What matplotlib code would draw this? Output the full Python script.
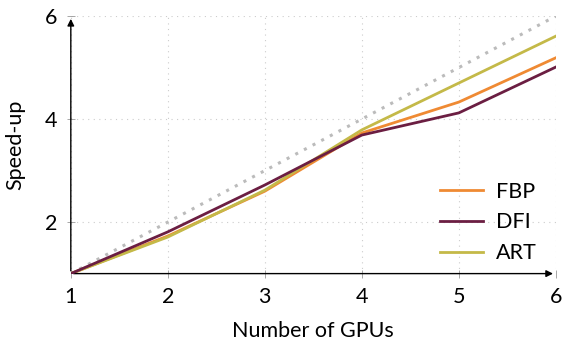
import matplotlib
matplotlib.use("Agg")
import matplotlib.pyplot as plt

gpus = [1, 2, 3, 4, 5, 6]
fbp = [1.0, 1.73, 2.60, 3.73, 4.33, 5.19]
dfi = [1.0, 1.81, 2.72, 3.69, 4.12, 5.01]
art = [1.0, 1.71, 2.62, 3.79, 4.70, 5.61]
ideal = [1, 2, 3, 4, 5, 6]

plt.rcParams["font.family"] = ["Lato", "DejaVu Sans"]

fig = plt.figure(figsize=(5.62, 3.42), dpi=100)
ax = fig.add_axes([0.126, 0.200, 0.863, 0.753])

ax.plot(gpus, ideal, color="#bbbbbb", linestyle=(0, (1, 2.2)), linewidth=2.2, zorder=2)
ax.plot(gpus, fbp, color="#ef8a33", linewidth=2, label="FBP", zorder=3)
ax.plot(gpus, dfi, color="#6b1e42", linewidth=2, label="DFI", zorder=4)
ax.plot(gpus, art, color="#c4b948", linewidth=2, label="ART", zorder=3)

ax.set_xlim(1, 6)
ax.set_ylim(1, 6)
ax.set_xticks([1, 2, 3, 4, 5, 6])
ax.set_yticks([2, 4, 6])
ax.grid(True, color="#cccccc", linestyle=(0, (1, 4)), linewidth=0.8)
for s in ax.spines.values():
    s.set_visible(False)
ax.tick_params(direction="inout", length=6, width=0.6, color="#999999",
               labelsize=15.5, pad=7)

# axis arrows
ax.annotate("", xy=(1.0, 0), xytext=(0, 0), xycoords="axes fraction",
            arrowprops=dict(arrowstyle="-|>", color="black", lw=1, mutation_scale=10),
            annotation_clip=False)
ax.annotate("", xy=(0, 1.0), xytext=(0, 0), xycoords="axes fraction",
            arrowprops=dict(arrowstyle="-|>", color="black", lw=1, mutation_scale=10),
            annotation_clip=False)

ax.set_xlabel("Number of GPUs", fontsize=15.5, labelpad=10)
ax.set_ylabel("Speed-up", fontsize=15.5, labelpad=14)

ax.legend(loc="lower right", bbox_to_anchor=(1.0, -0.035), frameon=False,
          fontsize=15.5, handlelength=2.0, handletextpad=0.6, labelspacing=0.5)

fig.savefig("out.png", dpi=100)
